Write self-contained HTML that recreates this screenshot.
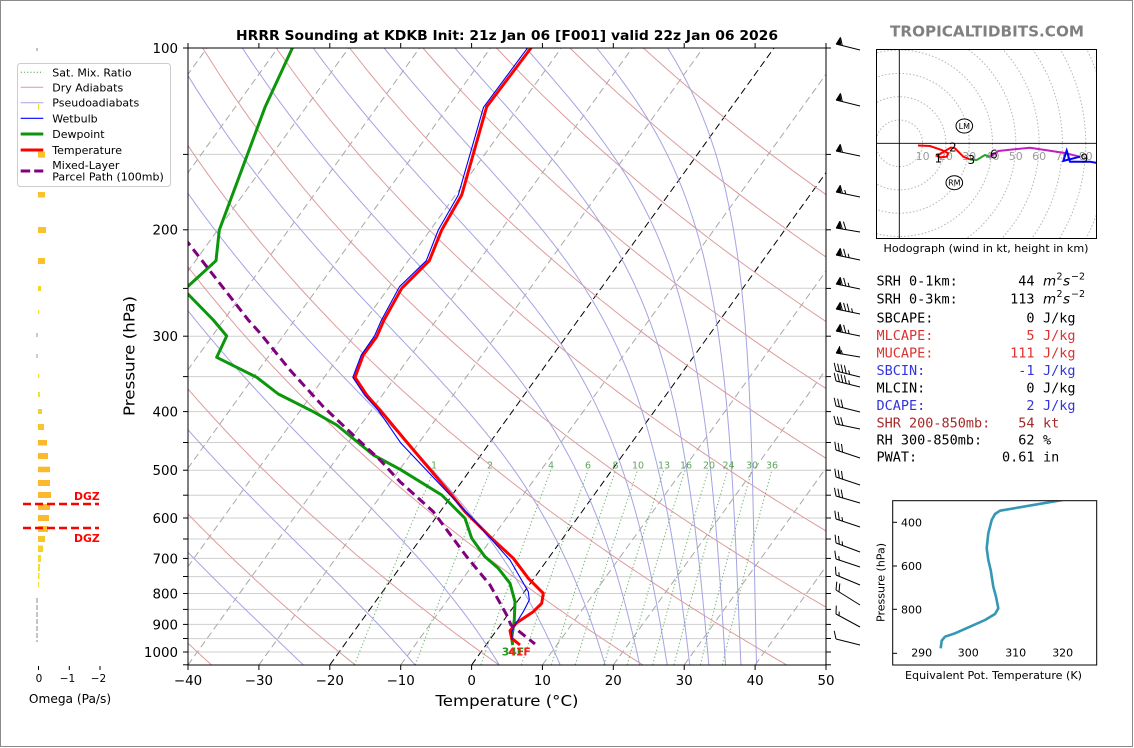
<!DOCTYPE html>
<html><head><meta charset="utf-8">
<style>
html,body{margin:0;padding:0;background:#fff;width:1134px;height:748px;overflow:hidden;}
svg{display:block;}
text{font-family:"DejaVu Sans","Liberation Sans",sans-serif;}
.mono text{font-family:"DejaVu Sans Mono","Liberation Mono",monospace;font-size:13.5px;}
</style></head><body>
<svg id="s" width="1134" height="748" viewBox="0 0 1134 748" xmlns="http://www.w3.org/2000/svg">
<defs>
<clipPath id="cm"><rect x="188" y="48" width="638" height="617"/></clipPath>
<clipPath id="ch"><rect x="876.5" y="49.5" width="220" height="189"/></clipPath>
<clipPath id="ci"><rect x="892.5" y="500.5" width="204" height="164.5"/></clipPath>
</defs>
<rect width="1134" height="748" fill="#fff"/>
<rect x="0.5" y="0.5" width="1132" height="746" fill="none" stroke="#8a8a8a"/>

<!-- ============ MAIN SKEW-T ============ -->
<g clip-path="url(#cm)">
 <g stroke="#cfcfcf" stroke-width="1">
  <line x1="188" x2="826" y1="154.4" y2="154.4"/><line x1="188" x2="826" y1="229.8" y2="229.8"/>
  <line x1="188" x2="826" y1="288.3" y2="288.3"/><line x1="188" x2="826" y1="336.2" y2="336.2"/>
  <line x1="188" x2="826" y1="376.6" y2="376.6"/><line x1="188" x2="826" y1="411.6" y2="411.6"/>
  <line x1="188" x2="826" y1="442.5" y2="442.5"/><line x1="188" x2="826" y1="470.2" y2="470.2"/>
  <line x1="188" x2="826" y1="495.2" y2="495.2"/><line x1="188" x2="826" y1="518" y2="518"/>
  <line x1="188" x2="826" y1="539" y2="539"/><line x1="188" x2="826" y1="558.4" y2="558.4"/>
  <line x1="188" x2="826" y1="576.6" y2="576.6"/><line x1="188" x2="826" y1="593.5" y2="593.5"/>
  <line x1="188" x2="826" y1="609.4" y2="609.4"/><line x1="188" x2="826" y1="624.4" y2="624.4"/>
  <line x1="188" x2="826" y1="638.6" y2="638.6"/><line x1="188" x2="826" y1="652" y2="652"/>
 </g>
 <g stroke="#a8a8a8" stroke-width="1" stroke-dasharray="7,4">
  <line x1="-237.3" y1="665" x2="206.9" y2="48"/><line x1="-166.4" y1="665" x2="277.8" y2="48"/>
  <line x1="-95.5" y1="665" x2="348.7" y2="48"/><line x1="-24.6" y1="665" x2="419.6" y2="48"/>
  <line x1="46.3" y1="665" x2="490.5" y2="48"/><line x1="117.1" y1="665" x2="561.3" y2="48"/>
  <line x1="188" y1="665" x2="632.2" y2="48"/><line x1="258.9" y1="665" x2="703.1" y2="48"/>
  <line x1="400.7" y1="665" x2="844.9" y2="48"/><line x1="542.4" y1="665" x2="986.6" y2="48"/>
  <line x1="613.3" y1="665" x2="1057.5" y2="48"/><line x1="684.2" y1="665" x2="1128.4" y2="48"/>
  <line x1="755.1" y1="665" x2="1199.3" y2="48"/>
 </g>
 <g stroke="#000" stroke-width="1" stroke-dasharray="7,4">
  <line x1="329.8" y1="665" x2="774" y2="48"/><line x1="471.6" y1="665" x2="915.8" y2="48"/>
 </g>
 <g id="dry" fill="none" stroke="#dc9c9c" stroke-width="1"></g>
 <g id="moist" fill="none" stroke="#a4a4e2" stroke-width="1"></g>
 <g id="mix" fill="none" stroke="#4f9f4f" stroke-width="1" stroke-dasharray="1.2,2.4" opacity="0.85"></g>
 <g font-size="9.5" fill="#5fa55f" text-anchor="middle">
  <text x="434" y="468.5">1</text><text x="490" y="468.5">2</text><text x="551" y="468.5">4</text>
  <text x="588" y="468.5">6</text><text x="615.5" y="468.5">8</text><text x="638" y="468.5">10</text>
  <text x="664" y="468.5">13</text><text x="686" y="468.5">16</text><text x="709" y="468.5">20</text>
  <text x="728.5" y="468.5">24</text><text x="752" y="468.5">30</text><text x="772" y="468.5">36</text>
 </g>
 <!-- dewpoint -->
 <polyline fill="none" stroke="#0c960c" stroke-width="3" stroke-linejoin="round" points="293.3,46 265,107.3 219.3,230 216,260.7 184,290 213.3,320 226.7,336 216.7,357.3 256.7,377.3 278.3,394 313.3,411.7 336.7,425 373.3,455 400,469.3 441.7,495 465,518.3 471.7,538.3 485,556.7 498.3,568.3 510,583.3 515,601.7 514.3,620 511.7,638.3 512.7,645"/>
 <!-- temperature -->
 <polyline fill="none" stroke="#ff0000" stroke-width="3" stroke-linejoin="round" points="532.5,46 486.7,106.7 461.7,195 441.7,230 429.3,260.7 401.7,288.3 384,320 376.7,336.7 363.3,355 355,377.3 366.7,395 380,410 405,440 451.7,495 465,511.7 491.7,538.3 513.3,558.3 528.3,578.3 543.3,593.3 541.7,603.3 533.3,611.7 516.7,622.7 510,630.7 511.7,638.3 520,645"/>
 <!-- wetbulb -->
 <polyline fill="none" stroke="#0000ff" stroke-width="1.1" stroke-linejoin="round" points="529,46 483.5,107.3 458.3,195 438.3,230 426.3,260.7 399.5,286.7 381.5,320 374.5,336 361.3,355 352.8,377.3 364.5,395 378,410 401,443.3 450,495 480,526.7 510,560 528.3,591.7 529.3,600 523.3,611.7 515,625 511.7,632 512,640"/>
 <!-- parcel -->
 <polyline fill="none" stroke="#800080" stroke-width="3" stroke-dasharray="9,5" points="150,194 188.3,243 248.3,320 260,333 290,370 323.3,406.7 356.7,438.3 380,460 400,481.7 433.3,511.7 466.7,556.7 490,585 506.7,615 511,625 535,644"/>
 <text x="501.7" y="655.5" font-size="10.8" font-weight="bold" fill="#1aa01a">34F</text>
 <text x="508.3" y="655.5" font-size="10.8" font-weight="bold" fill="#ff1a1a">41F</text>
</g>
<rect x="188" y="48" width="638" height="617" fill="none" stroke="#000" stroke-width="1"/>

<!-- axis ticks -->
<g stroke="#000" stroke-width="1">
 <line x1="188" y1="665" x2="188" y2="670"/><line x1="258.9" y1="665" x2="258.9" y2="670"/><line x1="329.8" y1="665" x2="329.8" y2="670"/>
 <line x1="400.7" y1="665" x2="400.7" y2="670"/><line x1="471.6" y1="665" x2="471.6" y2="670"/><line x1="542.4" y1="665" x2="542.4" y2="670"/>
 <line x1="613.3" y1="665" x2="613.3" y2="670"/><line x1="684.2" y1="665" x2="684.2" y2="670"/><line x1="755.1" y1="665" x2="755.1" y2="670"/>
 <line x1="826" y1="665" x2="826" y2="670"/>
 <line x1="188" y1="48" x2="188" y2="43"/><line x1="258.9" y1="48" x2="258.9" y2="43"/><line x1="329.8" y1="48" x2="329.8" y2="43"/>
 <line x1="400.7" y1="48" x2="400.7" y2="43"/><line x1="471.6" y1="48" x2="471.6" y2="43"/><line x1="542.4" y1="48" x2="542.4" y2="43"/>
 <line x1="613.3" y1="48" x2="613.3" y2="43"/><line x1="684.2" y1="48" x2="684.2" y2="43"/><line x1="755.1" y1="48" x2="755.1" y2="43"/>
 <line x1="826" y1="48" x2="826" y2="43"/>
</g>
<g id="yt" stroke="#000" stroke-width="1"></g>
<g font-size="13.4" text-anchor="middle" fill="#000">
 <text x="188" y="685">−40</text><text x="258.9" y="685">−30</text><text x="329.8" y="685">−20</text>
 <text x="400.7" y="685">−10</text><text x="471.6" y="685">0</text><text x="542.4" y="685">10</text>
 <text x="613.3" y="685">20</text><text x="684.2" y="685">30</text><text x="755.1" y="685">40</text><text x="826" y="685">50</text>
</g>
<g font-size="13.4" text-anchor="end" fill="#000">
 <text x="178" y="52.9">100</text><text x="178" y="234.7">200</text><text x="178" y="341.1">300</text>
 <text x="178" y="416.5">400</text><text x="178" y="475.1">500</text><text x="178" y="522.9">600</text>
 <text x="178" y="563.3">700</text><text x="178" y="598.4">800</text><text x="178" y="629.3">900</text>
 <text x="178" y="656.9">1000</text>
</g>
<text x="507" y="706" font-size="15.2" text-anchor="middle" textLength="143" lengthAdjust="spacingAndGlyphs">Temperature (°C)</text>
<text transform="translate(134.5,356) rotate(-90)" font-size="15.2" text-anchor="middle" textLength="120" lengthAdjust="spacingAndGlyphs">Pressure (hPa)</text>
<text x="507" y="40" font-size="13.7" font-weight="bold" text-anchor="middle" textLength="542" lengthAdjust="spacingAndGlyphs">HRRR Sounding at KDKB Init: 21z Jan 06 [F001] valid 22z Jan 06 2026</text>

<!-- wind barbs -->
<g id="barbs" stroke="#000" stroke-width="1" fill="#000"></g>

<!-- ============ LEGEND ============ -->
<rect x="17.5" y="63.5" width="153" height="123" rx="3" fill="#fff" fill-opacity="0.85" stroke="#cccccc"/>
<line x1="20.7" y1="72.3" x2="43.3" y2="72.3" stroke="#4f9f4f" stroke-dasharray="1.2,2" stroke-width="1"/>
<line x1="20.7" y1="87.3" x2="43.3" y2="87.3" stroke="#dc9c9c" stroke-width="1"/>
<line x1="20.7" y1="102.7" x2="43.3" y2="102.7" stroke="#a4a4e2" stroke-width="1"/>
<line x1="20.7" y1="118.3" x2="43.3" y2="118.3" stroke="#0000ff" stroke-width="1.2"/>
<line x1="20.7" y1="134" x2="43.3" y2="134" stroke="#0c960c" stroke-width="3"/>
<line x1="20.7" y1="150" x2="43.3" y2="150" stroke="#ff0000" stroke-width="3"/>
<line x1="20.7" y1="171" x2="43.3" y2="171" stroke="#800080" stroke-width="3" stroke-dasharray="9.5,4"/>
<g font-size="11" fill="#000">
 <text x="52.3" y="76.3">Sat. Mix. Ratio</text>
 <text x="52.3" y="91.3">Dry Adiabats</text>
 <text x="52.3" y="106.7">Pseudoadiabats</text>
 <text x="52.3" y="122.3">Wetbulb</text>
 <text x="52.3" y="138">Dewpoint</text>
 <text x="52.3" y="154">Temperature</text>
 <text x="52.3" y="169">Mixed-Layer</text>
 <text x="52.3" y="180.7">Parcel Path (100mb)</text>
</g>

<!-- ============ OMEGA PANEL ============ -->
<g>
 <rect x="36.5" y="48" width="1" height="3" fill="#888"/>
 <rect x="38" y="104" width="1.2" height="6" fill="#f2e030"/>
 <rect x="38" y="151.7" width="7" height="6" fill="#f9c22c"/>
 <rect x="38" y="192" width="7" height="5.5" fill="#f9c22c"/>
 <rect x="38" y="227" width="8" height="6" fill="#f9c22c"/>
 <rect x="38" y="258" width="7" height="6" fill="#f9c22c"/>
 <rect x="38" y="286" width="3" height="5" fill="#f5d62c"/>
 <rect x="38" y="310" width="1.2" height="4" fill="#f2e030"/>
 <rect x="36.5" y="333" width="1" height="4" fill="#999"/>
 <rect x="36.5" y="354" width="1" height="4" fill="#999"/>
 <rect x="38" y="374" width="1.2" height="4" fill="#f2e030"/>
 <rect x="38" y="392" width="2" height="5" fill="#f2e030"/>
 <rect x="38" y="409" width="4" height="5" fill="#f7d02c"/>
 <rect x="38" y="424" width="6" height="6" fill="#f9c52c"/>
 <rect x="38" y="440" width="9" height="5.5" fill="#fbba2e"/>
 <rect x="38" y="453" width="10" height="6" fill="#fbba2e"/>
 <rect x="38" y="466.7" width="12" height="5.5" fill="#fbba2e"/>
 <rect x="38" y="480" width="12" height="6" fill="#fbba2e"/>
 <rect x="38" y="492" width="13" height="6" fill="#fbba2e"/>
 <rect x="38" y="504" width="12" height="6" fill="#fbba2e"/>
 <rect x="38" y="515" width="11" height="6" fill="#fbba2e"/>
 <rect x="38" y="526" width="10" height="6" fill="#fbbe2e"/>
 <rect x="38" y="536" width="7" height="6" fill="#f9c52c"/>
 <rect x="38" y="545.5" width="5" height="6.5" fill="#f7d02c"/>
 <rect x="38" y="555" width="3" height="7" fill="#f5dc2c"/>
 <rect x="38" y="564" width="2" height="7" fill="#f2e030"/>
 <rect x="38" y="573" width="1.5" height="6" fill="#f2e030"/>
 <rect x="38" y="582" width="1" height="5" fill="#f2e030"/>
 <line x1="37" y1="598" x2="37" y2="642" stroke="#8a8a8a" stroke-width="1" stroke-dasharray="5,2"/>
 <line x1="23" y1="504" x2="99" y2="504" stroke="#ff0000" stroke-width="2.5" stroke-dasharray="8,4"/>
 <line x1="23" y1="528" x2="99" y2="528" stroke="#ff0000" stroke-width="2.5" stroke-dasharray="8,4"/>
 <text x="74" y="500" font-size="10.8" font-weight="bold" fill="#ff0000">DGZ</text>
 <text x="74" y="542" font-size="10.8" font-weight="bold" fill="#ff0000">DGZ</text>
 <g stroke="#000" stroke-width="1">
  <line x1="38.5" y1="666" x2="38.5" y2="670"/><line x1="69.3" y1="666" x2="69.3" y2="670"/><line x1="100" y1="666" x2="100" y2="670"/>
 </g>
 <g font-size="10.5" text-anchor="middle">
  <text x="39" y="682">0</text><text x="67.5" y="682">−1</text><text x="98.5" y="682">−2</text>
 </g>
 <text x="70" y="703" font-size="12.2" text-anchor="middle">Omega (Pa/s)</text>
</g>

<!-- ============ RIGHT SIDE ============ -->
<text x="987" y="36.5" font-size="15" font-weight="bold" fill="#808080" text-anchor="middle" textLength="194" lengthAdjust="spacingAndGlyphs">TROPICALTIDBITS.COM</text>

<!-- hodograph -->
<g clip-path="url(#ch)">
 <g fill="none" stroke="#b4b4b4" stroke-width="1" stroke-dasharray="1.5,2">
  <circle cx="899.3" cy="143.3" r="23.3"/><circle cx="899.3" cy="143.3" r="46.6"/><circle cx="899.3" cy="143.3" r="69.9"/>
  <circle cx="899.3" cy="143.3" r="93.2"/><circle cx="899.3" cy="143.3" r="116.5"/><circle cx="899.3" cy="143.3" r="139.8"/>
  <circle cx="899.3" cy="143.3" r="163.1"/><circle cx="899.3" cy="143.3" r="186.4"/><circle cx="899.3" cy="143.3" r="209.7"/>
  <circle cx="899.3" cy="143.3" r="233"/>
 </g>
 <line x1="899.3" y1="49" x2="899.3" y2="238" stroke="#000" stroke-width="0.9"/>
 <line x1="876" y1="143.3" x2="1097" y2="143.3" stroke="#000" stroke-width="0.9"/>
 <g font-size="11" fill="#9a9a9a" text-anchor="middle">
  <text x="922.6" y="160">10</text><text x="945.9" y="160">20</text><text x="969.2" y="160">30</text>
  <text x="992.5" y="160">40</text><text x="1015.8" y="160">50</text><text x="1039.1" y="160">60</text>
  <text x="1062.4" y="160">70</text><text x="1085.7" y="160">80</text>
 </g>
 <polyline fill="none" stroke="#ff0000" stroke-width="2" points="918,145.5 930,146 941.7,150 948.3,153.3 946.7,156.7 940,157.3 937,156 944,151.5 951,147.5 955,148.3 963.3,156.7 970,159.5"/>
 <polyline fill="none" stroke="#2ca02c" stroke-width="2" points="970,159.5 976.7,160 985,155 990,156.7"/>
 <polyline fill="none" stroke="#bf1fbf" stroke-width="2" points="990,156.7 998.3,151 1030,147.7 1063.3,152.7 1080,156.7"/>
 <polyline fill="none" stroke="#0000ff" stroke-width="2" points="1080,156.7 1063.3,161 1066.7,150.5 1070,161.7 1090,161.7 1097,163"/>
 <g font-size="12" fill="#000">
  <text x="934.5" y="162.5">1</text><text x="949" y="151.5">2</text><text x="967.5" y="164">3</text>
  <text x="990" y="158.5">6</text><text x="1080.5" y="162.5">9</text>
 </g>
 <ellipse cx="964.3" cy="126" rx="8.3" ry="7" fill="none" stroke="#000" stroke-width="1"/>
 <text x="964.3" y="129" font-size="8" text-anchor="middle">LM</text>
 <ellipse cx="954.3" cy="182.7" rx="8.3" ry="7" fill="none" stroke="#000" stroke-width="1"/>
 <text x="954.3" y="185.7" font-size="8" text-anchor="middle">RM</text>
</g>
<rect x="876.5" y="49.5" width="220" height="189" fill="none" stroke="#000" stroke-width="1"/>
<text x="986" y="252" font-size="11" text-anchor="middle" textLength="205" lengthAdjust="spacingAndGlyphs">Hodograph (wind in kt, height in km)</text>

<!-- stats -->
<g class="mono">
 <text x="876.5" y="285.7">SRH 0-1km:</text><text x="1034.5" y="285.7" text-anchor="end">44</text>
 <text x="876.5" y="303.3">SRH 0-3km:</text><text x="1034.5" y="303.3" text-anchor="end">113</text>
 <text x="876.5" y="322.3">SBCAPE:</text><text x="1034.5" y="322.3" text-anchor="end">0</text><text x="1043" y="322.3">J/kg</text>
 <text x="876.5" y="340" fill="#dc3232">MLCAPE:</text><text x="1034.5" y="340" text-anchor="end" fill="#dc3232">5</text><text x="1043" y="340" fill="#dc3232">J/kg</text>
 <text x="876.5" y="357.3" fill="#dc3232">MUCAPE:</text><text x="1034.5" y="357.3" text-anchor="end" fill="#dc3232">111</text><text x="1043" y="357.3" fill="#dc3232">J/kg</text>
 <text x="876.5" y="375" fill="#3434dc">SBCIN:</text><text x="1034.5" y="375" text-anchor="end" fill="#3434dc">-1</text><text x="1043" y="375" fill="#3434dc">J/kg</text>
 <text x="876.5" y="392.7">MLCIN:</text><text x="1034.5" y="392.7" text-anchor="end">0</text><text x="1043" y="392.7">J/kg</text>
 <text x="876.5" y="410" fill="#3434dc">DCAPE:</text><text x="1034.5" y="410" text-anchor="end" fill="#3434dc">2</text><text x="1043" y="410" fill="#3434dc">J/kg</text>
 <text x="876.5" y="427.3" fill="#a52a2a">SHR 200-850mb:</text><text x="1034.5" y="427.3" text-anchor="end" fill="#a52a2a">54</text><text x="1043" y="427.3" fill="#a52a2a">kt</text>
 <text x="876.5" y="444.3">RH 300-850mb:</text><text x="1034.5" y="444.3" text-anchor="end">62</text><text x="1043" y="444.3">%</text>
 <text x="876.5" y="461.7">PWAT:</text><text x="1034.5" y="461.7" text-anchor="end">0.61</text><text x="1043" y="461.7">in</text>
</g>
<g font-size="13.5" fill="#000">
 <text x="1043" y="285.7" font-style="italic">m</text><text x="1056.5" y="279.5" font-size="9.5">2</text>
 <text x="1063" y="285.7" font-style="italic">s</text><text x="1071" y="279.5" font-size="9.5">−2</text>
 <text x="1043" y="303.3" font-style="italic">m</text><text x="1056.5" y="297" font-size="9.5">2</text>
 <text x="1063" y="303.3" font-style="italic">s</text><text x="1071" y="297" font-size="9.5">−2</text>
</g>

<!-- theta-e inset -->
<g clip-path="url(#ci)">
 <polyline fill="none" stroke="#3497b4" stroke-width="2.6" stroke-linejoin="round" points="1085,496 1058.3,500.7 1000,510.7 995,514 991.7,520 988.3,533.3 986.7,548.3 988.3,560 990.7,570 993.3,586.7 996,596.7 998.3,608.3 995,614 985,620 970,626.7 955,633.3 945,636.7 941.7,640.7 940.7,648.3"/>
</g>
<rect x="892.7" y="500.7" width="204" height="164.3" fill="none" stroke="#000" stroke-width="1"/>
<g stroke="#000" stroke-width="1">
 <line x1="892.7" y1="522.3" x2="897" y2="522.3"/><line x1="892.7" y1="566" x2="897" y2="566"/>
 <line x1="892.7" y1="609.3" x2="897" y2="609.3"/><line x1="892.7" y1="653.3" x2="897" y2="653.3"/>
</g>
<g font-size="11" text-anchor="end">
 <text x="922" y="526.3">400</text><text x="922" y="570">600</text><text x="922" y="613.3">800</text>
</g>
<g font-size="11" text-anchor="middle">
 <text x="921.7" y="656.7">290</text><text x="968.3" y="656.7">300</text><text x="1015.7" y="656.7">310</text><text x="1062.7" y="656.7">320</text>
</g>
<text transform="translate(884.5,582.5) rotate(-90)" font-size="10.6" text-anchor="middle" textLength="79" lengthAdjust="spacingAndGlyphs">Pressure (hPa)</text>
<text x="993.5" y="679" font-size="11" text-anchor="middle" textLength="177" lengthAdjust="spacingAndGlyphs">Equivalent Pot. Temperature (K)</text>
</svg>

<script>
(function(){
var NS='http://www.w3.org/2000/svg';
function Y(p){return 48+604*Math.log(p/100)/Math.LN10;}
function X(T,p){return 188+(T+40)*7.0889+(665-Y(p))*0.72;}
function add(id,pts){
  var d='M'+pts.map(function(q){return q[0].toFixed(1)+','+q[1].toFixed(1);}).join('L');
  var e=document.createElementNS(NS,'path');e.setAttribute('d',d);
  document.getElementById(id).appendChild(e);
}
var t0,p,pts;
for(t0=-40;t0<=180;t0+=20){
  var th=t0+273.15;pts=[];
  for(p=1050;p>=100;p-=10){pts.push([X(th*Math.pow(p/1000,0.2857)-273.15,p),Y(p)]);}
  add('dry',pts);
}
function es(T){var c=T-273.15;return 6.112*Math.exp(17.67*c/(c+243.5));}
function f(p,T){var e=es(T);var r=0.622*e/(p-e);
  return (287.04*T+2.501e6*r)/(1005.7+2.501e6*2.501e6*r*0.622/(287.04*T*T))/p;}
for(var tt=-145;tt<=-35;tt+=10){
  var T=tt+273.15;p=100;pts=[[X(tt,p),Y(p)]];var h=2.5;
  while(p<1050){
    var k1=f(p,T),k2=f(p+h/2,T+h/2*k1),k3=f(p+h/2,T+h/2*k2),k4=f(p+h,T+h*k3);
    T+=h/6*(k1+2*k2+2*k3+k4);p+=h;pts.push([X(T-273.15,p),Y(p)]);
  }
  add('moist',pts);
}
[1,2,4,6,8,10,13,16,20,24,30,36].forEach(function(w){
  var ww=w/1000;var pp=[];
  for(var q=1050;q>=500;q-=10){var e=ww*q/(0.622+ww);var l=Math.log(e/6.112);var td=243.5*l/(17.67-l);pp.push([X(td,q),Y(q)]);}
  add('mix',pp);
});
var yt=document.getElementById('yt');
for(p=100;p<=1050;p+=50){
  var y=Y(p);
  [[183,188],[826,831]].forEach(function(xs){
    var l=document.createElementNS(NS,'line');
    l.setAttribute('x1',xs[0]);l.setAttribute('x2',xs[1]);l.setAttribute('y1',y.toFixed(1));l.setAttribute('y2',y.toFixed(1));
    yt.appendChild(l);
  });
}
var B=[[50,6,1,1,0],[106,6,1,1,0],[156,5,1,1,0],[197,5,1,1,1],[232,4,1,2,0],[260,5,1,2,1],[289,5,1,2,1],[314,5,1,3,1],[336,5,1,2,1],[357,4,1,0,1],
[377,6,0,4,1],[387,6,0,4,1],[412,6,0,3,0],[429,5,0,3,0],[458,8,0,3,0],[485,8,0,3,0],[503,7,0,3,0],[527,8,0,2,1],[552,9,0,2,1],[567,8,0,1,1],
[585,10,0,1,1],[605,15,0,2,0],[627,13,0,1,1],[645,6,0,1,0]];
var g=document.getElementById('barbs');var s='';
B.forEach(function(b){
  var bx=860,by=b[0],tx=836,ty=b[0]-b[1];
  var L=Math.hypot(tx-bx,ty-by),ux=(tx-bx)/L,uy=(ty-by)/L,nx=-uy,ny=ux;
  var hh=7.5,w=5,sp=3.5,off=0,i,px,py;
  s+='<line x1="'+bx+'" y1="'+by+'" x2="'+tx+'" y2="'+ty+'" fill="none"/>';
  for(i=0;i<b[2];i++){
    px=tx-ux*off;py=ty-uy*off;
    s+='<polygon stroke-width="0.5" points="'+px.toFixed(1)+','+py.toFixed(1)+' '+(px+nx*hh-ux*w/2).toFixed(1)+','+(py+ny*hh-uy*w/2).toFixed(1)+' '+(px-ux*w).toFixed(1)+','+(py-uy*w).toFixed(1)+'"/>';
    off+=w;
  }
  if(b[2]>0)off+=1.5;
  for(i=0;i<b[3];i++){
    px=tx-ux*off;py=ty-uy*off;
    s+='<line fill="none" x1="'+px.toFixed(1)+'" y1="'+py.toFixed(1)+'" x2="'+(px+nx*hh+ux*hh/2).toFixed(1)+'" y2="'+(py+ny*hh+uy*hh/2).toFixed(1)+'"/>';
    off+=sp;
  }
  for(i=0;i<b[4];i++){
    if(b[2]===0&&b[3]===0)off+=sp;
    px=tx-ux*off;py=ty-uy*off;
    s+='<line fill="none" x1="'+px.toFixed(1)+'" y1="'+py.toFixed(1)+'" x2="'+(px+nx*hh/2+ux*hh/4).toFixed(1)+'" y2="'+(py+ny*hh/2+uy*hh/4).toFixed(1)+'"/>';
    off+=sp;
  }
});
g.innerHTML=s;
})();
</script>
</body></html>
